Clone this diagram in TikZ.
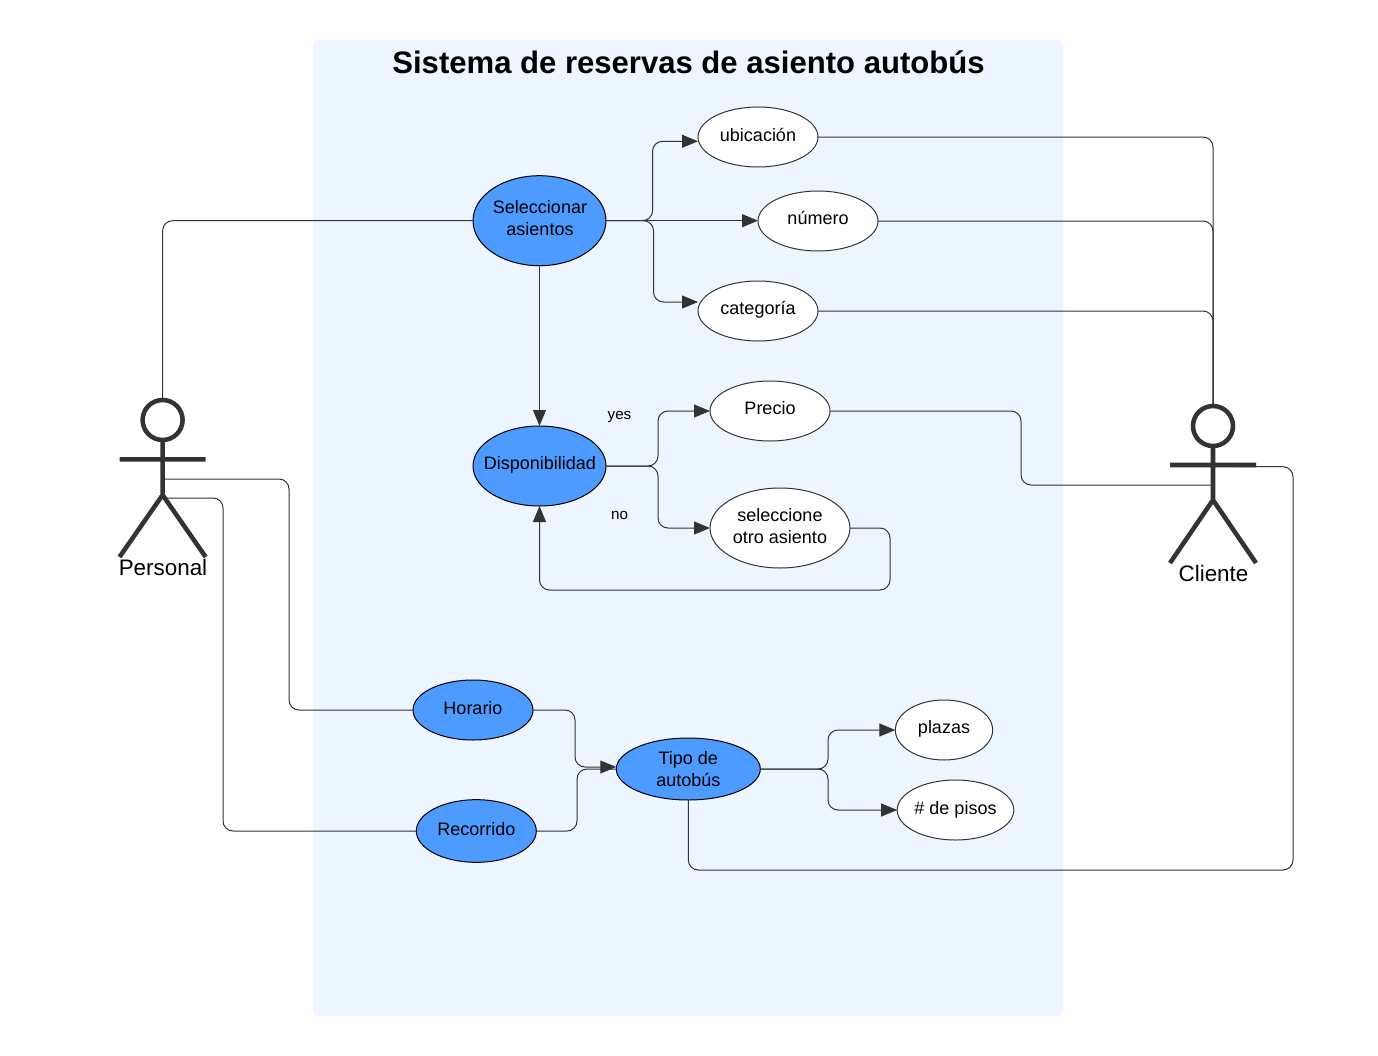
\documentclass[tikz,border=0pt]{standalone}
\usepackage{fontspec}
\setmainfont{Liberation Sans}
\usetikzlibrary{shapes.geometric,arrows.meta,calc}
\definecolor{panelc}{HTML}{EDF5FF}
\definecolor{bluec}{HTML}{4D9BFF}
\definecolor{inkc}{HTML}{333333}
\newcommand{\lift}[1]{\rule[-#1pt]{0pt}{0pt}}
\newcommand{\nudged}[1]{\makebox[0pt]{\hspace{0.75pt}#1}}
\tikzset{
  x=0.75pt,y=-0.75pt,
  usecase/.style={ellipse,draw=black,line width=0.75pt,inner sep=0pt,outer sep=0pt,align=center,text=black,
    font=\fontsize{13.5}{16.5}\selectfont},
  bluecase/.style={usecase,fill=bluec},
  whitecase/.style={usecase,fill=white,draw=inkc},
  link/.style={draw=inkc,line width=0.75pt,rounded corners=7.5pt},
  flow/.style={link,-{Triangle[length=12pt,width=9.75pt,color=inkc]}},
  stick/.style={draw=inkc,line width=3.4pt},
  actorname/.style={font=\fontsize{16.8}{20}\selectfont,text=black,inner sep=0pt},
  small/.style={font=\fontsize{11.4}{13}\selectfont,text=black,inner sep=0pt},
}
\begin{document}
\begin{tikzpicture}
\useasboundingbox (0,0) rectangle (1378,1056);
\fill[white] (0,0) rectangle (1378,1056);
\node[fill=panelc,rounded corners=4.5pt,minimum width=562.5pt,minimum height=732pt,inner sep=0pt,outer sep=0pt] (panel) at (688,528) {};
\node[font=\bfseries\fontsize{23.3}{28}\selectfont,inner sep=0pt] (title) at (688.5,62) {Sistema de reservas de asiento autobús};

% actors
\node[circle,stick,minimum size=30pt,inner sep=0pt,outer sep=0pt] (phead) at (162.6,420) {};
\coordinate (parml) at (119.5,459.3); \coordinate (parmr) at (205.7,459.3);
\coordinate (phip) at (162.6,495); \coordinate (plegl) at (119.5,557); \coordinate (plegr) at (205.7,557);
\coordinate (ptorso) at (162.6,479); \coordinate (pwaist) at (162.6,498);
\draw[stick] (phead.south) -- (phip) (parml) -- (parmr) (plegl) -- (phip) -- (plegr);
\node[actorname] (pname) at (163,567.5) {Personal};

\node[circle,stick,minimum size=30pt,inner sep=0pt,outer sep=0pt] (chead) at (1213,426) {};
\coordinate (carml) at (1170,465); \coordinate (carmr) at (1256,465);
\coordinate (chip) at (1213,500); \coordinate (clegl) at (1170,563); \coordinate (clegr) at (1256,563);
\coordinate (cbody) at (1213,485); \coordinate (carmend) at (1236,466.7);
\draw[stick] (chead.south) -- (chip) (carml) -- (carmr) (clegl) -- (chip) -- (clegr);
\node[actorname] (cname) at (1213.5,573.5) {Cliente};

% use cases
\node[bluecase,minimum width=99.75pt,minimum height=67.5pt] (sel) at (539.5,220.7) {\nudged{Seleccionar}\\\nudged{asientos}\lift{4.5}};
\node[bluecase,minimum width=99.75pt,minimum height=60pt] (disp) at (539.5,466) {\nudged{Disponibilidad}\lift{4.3}};
\node[bluecase,minimum width=90pt,minimum height=45pt] (hor) at (473,710) {Horario\lift{3}};
\node[bluecase,minimum width=90pt,minimum height=47pt] (rec) at (476.3,831) {Recorrido\lift{3}};
\node[bluecase,minimum width=108pt,minimum height=46.5pt] (tipo) at (688.3,769) {Tipo de\\autobús};
\node[whitecase,minimum width=90pt,minimum height=45pt] (ubi) at (758,137) {ubicación\lift{3}};
\node[whitecase,minimum width=90pt,minimum height=45pt] (num) at (818,221) {número\lift{4.5}};
\node[whitecase,minimum width=90pt,minimum height=45pt] (cat) at (758,311) {categoría\lift{4.3}};
\node[whitecase,minimum width=90pt,minimum height=45pt] (pre) at (770,411) {Precio\lift{4.5}};
\node[whitecase,minimum width=105pt,minimum height=60pt] (otro) at (780,528) {seleccione\\[-0.5pt]otro asiento\lift{3}};
\node[whitecase,minimum width=73pt,minimum height=45pt] (plz) at (944,730) {plazas\lift{4.3}};
\node[whitecase,minimum width=87.5pt,minimum height=45pt] (pis) at (955.5,810) {\# de pisos};

\node[small] (yes) at (619.5,416.5) {yes};
\node[small] (no) at (619.5,515) {no};

% connectors
\draw[link] (sel.west) -| (phead.north);
\draw[flow] (sel.east) -- (652.5,220.7) -- (652.5,141.3) -- ($(ubi.west)+(0,4.3)$);
\draw[flow] (sel.east) -- (num.west |- sel.east);
\draw[flow] (sel.east) -- (653.5,220.7) -- (653.5,302) -- ($(cat.west)+(0,-9)$);
\draw[flow] (sel.south) -- (disp.north);
\draw[link] (ubi.east) -| (chead.north);
\draw[link] (num.east) -| (chead.north);
\draw[link] (cat.east) -| (chead.north);
\draw[flow] (disp.east) -- (658,466) -- (658,411) -- (pre.west);
\draw[flow] (disp.east) -- (658,466) -- (658,528) -- (otro.west);
\draw[flow] (otro.east) -- (890,528) -- (890,590) -- (539.5,590) -- (disp.south);
\draw[link] (pre.east) -- (1021,411) -- (1021,485) -- (cbody);
\draw[link] (ptorso) -- (289,479) -- (289,710) -- (hor.west);
\draw[link] (pwaist) -- (223,498) -- (223,831) -- (rec.west);
\draw[link] (rec.east) -- (577,831) -- (577,769) -- (tipo.west);
\draw[flow] (hor.east) -- (575,710) -- (575,767) -- ($(tipo.west)+(0,-2)$);
\draw[flow] (tipo.east) -- (828,769) -- (828,730) -- (plz.west);
\draw[flow] (tipo.east) -- (828,769) -- (828,810) -- (pis.west);
\draw[link] (tipo.south) -- (688.3,870) -- (1293,870) -- (1293,466.7) -- (carmend);
\end{tikzpicture}
\end{document}
